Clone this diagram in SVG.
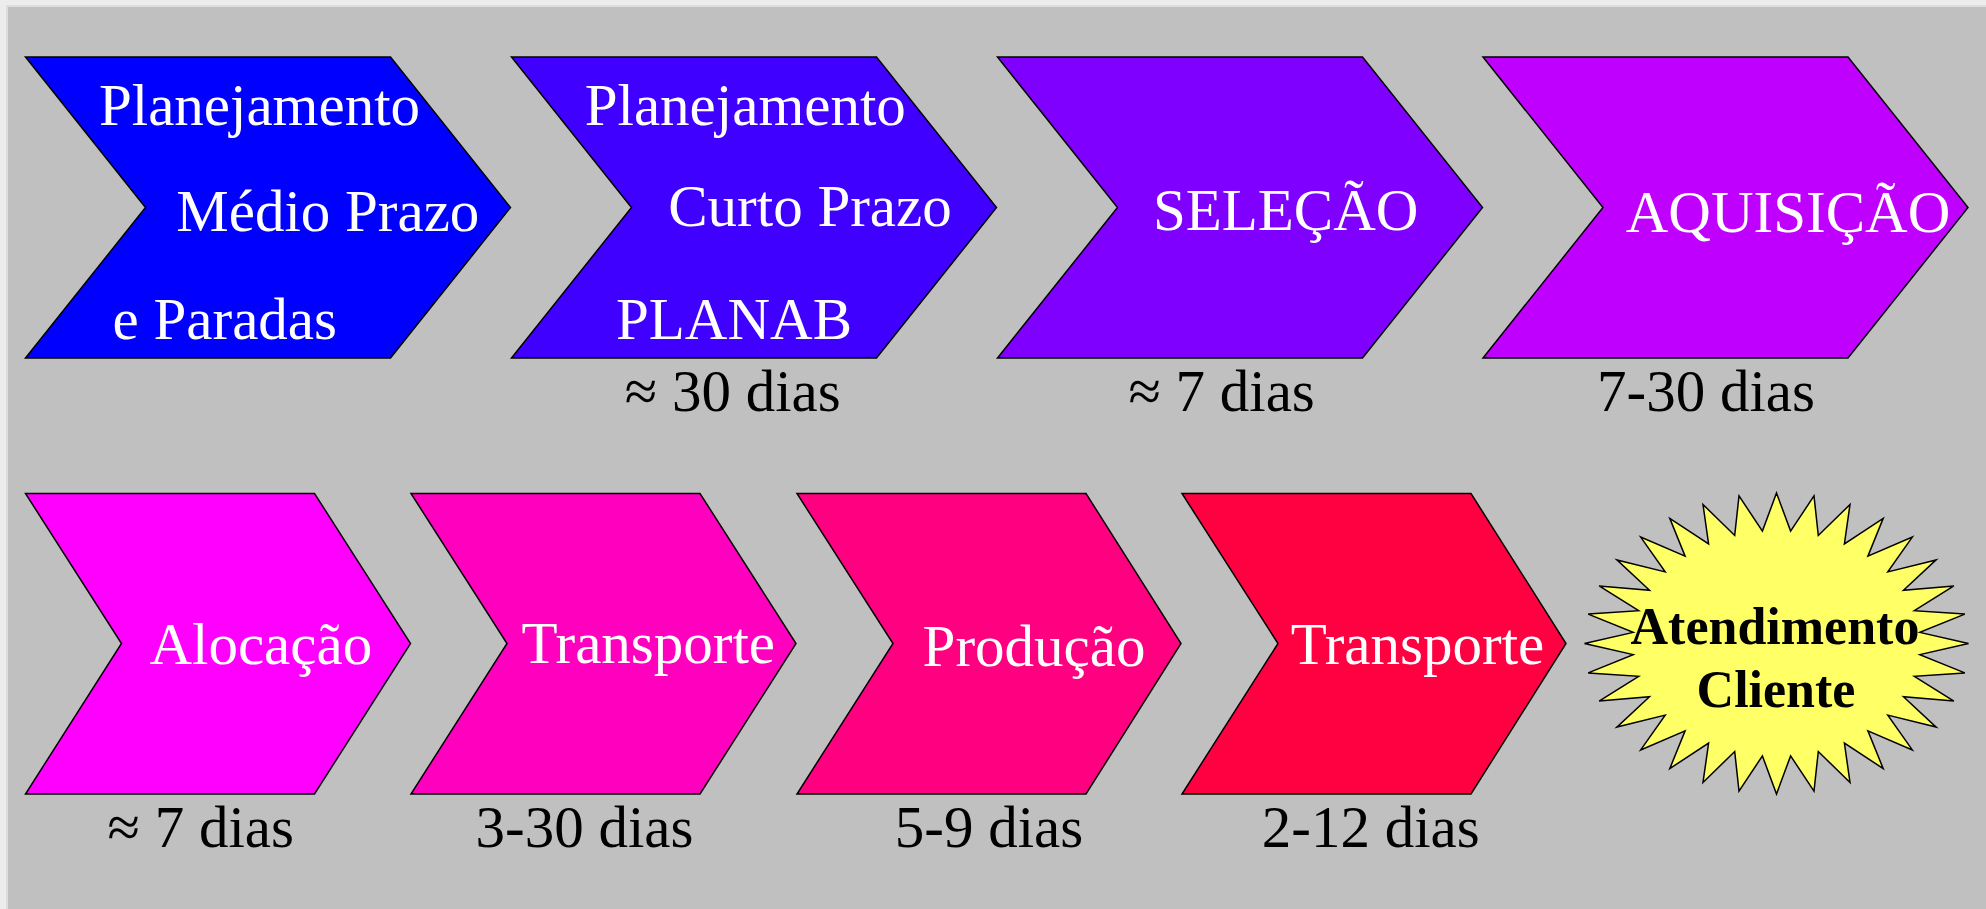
<svg xmlns="http://www.w3.org/2000/svg" width="1986" height="909" viewBox="0 0 1986 909">
<style>
.shape{stroke:#000;stroke-width:1.5;stroke-linejoin:miter}
.w{font-family:"Liberation Serif","Times New Roman",serif;font-size:59px;fill:#fff;text-anchor:middle}
.k{font-family:"Liberation Serif","Times New Roman",serif;font-size:59px;fill:#000;text-anchor:middle}
.b{font-family:"Liberation Serif","Times New Roman",serif;font-size:52px;font-weight:bold;fill:#000;text-anchor:middle}
</style>
<rect x="0" y="0" width="1986" height="909" fill="#ECECEC"/>
<rect x="6" y="5" width="1980" height="904" fill="#DCDCDC"/>
<rect x="8" y="7" width="1978" height="902" fill="#C0C0C0"/>

<g id="n1">
<polygon class="shape" fill="#0000FF" points="25.5,57 390.5,57 510.5,207.5 390.5,358 25.5,358 145.5,207.5"/>
<text class="w" x="259.5" y="125">Planejamento</text>
<text class="w" x="327.8" y="231">Médio Prazo</text>
<text class="w" x="224.8" y="339">e Paradas</text>
</g>
<g id="n2">
<polygon class="shape" fill="#4000FF" points="511.5,57 876.5,57 996.5,207.5 876.5,358 511.5,358 631.5,207.5"/>
<text class="w" x="745.3" y="125">Planejamento</text>
<text class="w" x="810" y="225.5">Curto Prazo</text>
<text class="w" x="734" y="339">PLANAB</text>
<text class="k" x="732.8" y="410.5">≈ 30 dias</text>
</g>
<g id="n3">
<polygon class="shape" fill="#8000FF" points="997.5,57 1362.5,57 1482.5,207.5 1362.5,358 997.5,358 1117.5,207.5"/>
<text class="w" x="1285.7" y="229.5">SELEÇÃO</text>
<text class="k" x="1221.6" y="410.5">≈ 7 dias</text>
</g>
<g id="n4">
<polygon class="shape" fill="#BF00FF" points="1483,57 1848,57 1968,207.5 1848,358 1483,358 1603,207.5"/>
<text class="w" x="1788" y="231.5">AQUISIÇÃO</text>
<text class="k" x="1706" y="410.5">7-30 dias</text>
</g>
<g id="n5">
<polygon class="shape" fill="#FF00FF" points="25.5,493.5 314.5,493.5 410.5,643.5 314.5,794 25.5,794 121.5,643.5"/>
<text class="w" x="260.8" y="664">Alocação</text>
<text class="k" x="200.8" y="846.5">≈ 7 dias</text>
</g>
<g id="n6">
<polygon class="shape" fill="#FF00BF" points="411,493.5 700,493.5 796,643.5 700,794 411,794 507,643.5"/>
<text class="w" x="648.3" y="663">Transporte</text>
<text class="k" x="584.5" y="846.5">3-30 dias</text>
</g>
<g id="n7">
<polygon class="shape" fill="#FF0080" points="797,493.5 1086,493.5 1181,643.5 1086,794 797,794 893,643.5"/>
<text class="w" x="1034" y="665.5">Produção</text>
<text class="k" x="989" y="846.5">5-9 dias</text>
</g>
<g id="n8">
<polygon class="shape" fill="#FF0040" points="1182,493.5 1471,493.5 1566,643.5 1471,794 1182,794 1278,643.5"/>
<text class="w" x="1417.5" y="664">Transporte</text>
<text class="k" x="1370.8" y="846.5">2-12 dias</text>
</g>
<g id="n9">
<polygon class="shape" fill="#FFFF66" points="1776.5,493 1790.6,531.1 1814,495.9 1818.3,535.5 1850,504.5 1844.4,543.9 1883.2,518.4 1867.9,556.2 1912.3,537.1 1887.8,571.9 1936.1,559.9 1903.5,590.3 1953.9,585.9 1914.3,610.7 1964.8,614.1 1919.8,632.4 1968.5,643.5 1919.8,654.6 1964.8,672.9 1914.3,676.3 1953.9,701.1 1903.5,696.7 1936.1,727.1 1887.8,715.1 1912.3,749.9 1867.9,730.8 1883.2,768.6 1844.4,743.1 1850,782.5 1818.3,751.5 1814,791.1 1790.6,755.9 1776.5,794 1762.4,755.9 1739,791.1 1734.7,751.5 1703,782.5 1708.6,743.1 1669.8,768.6 1685.1,730.8 1640.7,749.9 1665.2,715.1 1616.9,727.1 1649.5,696.7 1599.1,701.1 1638.7,676.3 1588.2,672.9 1633.2,654.6 1584.5,643.5 1633.2,632.4 1588.2,614.1 1638.7,610.7 1599.1,585.9 1649.5,590.3 1616.9,559.9 1665.2,571.9 1640.7,537.1 1685.1,556.2 1669.8,518.4 1708.6,543.9 1703,504.5 1734.7,535.5 1739,495.9 1762.4,531.1"/>
<text class="b" x="1775" y="644">Atendimento</text>
<text class="b" x="1776" y="707">Cliente</text>
</g>
<g id="connectors"/>
</svg>
